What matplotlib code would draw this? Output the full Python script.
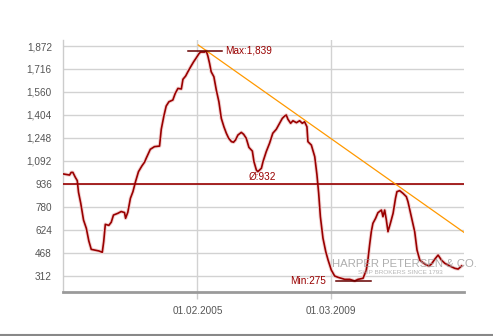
import pandas as pd
import matplotlib
matplotlib.use('Agg')
import matplotlib.pyplot as plt
import matplotlib.dates as mdates
from matplotlib.ticker import FuncFormatter

plt.rcParams['font.family'] = ['Liberation Sans', 'DejaVu Sans']

# HARPEX index
dates = ['2001-01-01', '2001-03-07', '2001-03-25', '2001-04-13', '2001-05-10', '2001-06-01',
         '2001-06-15', '2001-07-10', '2001-08-10', '2001-09-10', '2001-10-08', '2001-11-04',
         '2001-12-19', '2002-01-28', '2002-03-07', '2002-03-23', '2002-04-10', '2002-05-19',
         '2002-06-15', '2002-07-10', '2002-08-28', '2002-10-04', '2002-11-10', '2002-11-22',
         '2002-12-17', '2003-01-15', '2003-02-12', '2003-03-13', '2003-04-15', '2003-05-22',
         '2003-06-22', '2003-07-10', '2003-08-25', '2003-10-10', '2003-12-06', '2003-12-25',
         '2004-01-23', '2004-02-18', '2004-03-19', '2004-05-02', '2004-05-29', '2004-06-28',
         '2004-08-05', '2004-08-23', '2004-09-22', '2004-10-17', '2004-11-17', '2004-12-20',
         '2005-01-20', '2005-02-15', '2005-03-07', '2005-04-21', '2005-05-10', '2005-05-28',
         '2005-06-16', '2005-07-04', '2005-08-03', '2005-08-30', '2005-09-28', '2005-10-25',
         '2005-11-23', '2005-12-20', '2006-01-15', '2006-02-15', '2006-03-10', '2006-04-01',
         '2006-04-28', '2006-06-05', '2006-07-01', '2006-07-30', '2006-08-29', '2006-10-06',
         '2006-10-24', '2006-11-20', '2006-12-06', '2007-01-15', '2007-02-02', '2007-03-10',
         '2007-04-16', '2007-05-22', '2007-06-30', '2007-08-06', '2007-09-05', '2007-10-01',
         '2007-10-20', '2007-11-07', '2007-12-07', '2008-01-02', '2008-02-10', '2008-03-16',
         '2008-04-15', '2008-05-11', '2008-06-06', '2008-06-17', '2008-07-25', '2008-09-01',
         '2008-09-25', '2008-10-15', '2008-11-03', '2008-12-02', '2009-01-02', '2009-01-28',
         '2009-03-05', '2009-04-11', '2009-05-18', '2009-06-25', '2009-08-01', '2009-09-26',
         '2009-11-21', '2009-12-28', '2010-02-22', '2010-03-30', '2010-04-17', '2010-05-06',
         '2010-05-25', '2010-06-12', '2010-07-12', '2010-08-07', '2010-09-15', '2010-10-02',
         '2010-10-21', '2010-11-09', '2010-11-27', '2010-12-24', '2011-01-23', '2011-02-19',
         '2011-03-07', '2011-04-06', '2011-05-13', '2011-06-20', '2011-07-08', '2011-08-15',
         '2011-09-21', '2011-10-17', '2011-11-17', '2011-12-23', '2012-01-31', '2012-02-28',
         '2012-03-26', '2012-05-01', '2012-06-08', '2012-07-15', '2012-08-22', '2012-10-16',
         '2012-12-11', '2013-01-18', '2013-02-25']
values = [1002, 995, 1013, 1013, 980, 957,
          878, 803, 689, 633, 547, 490,
          484, 479, 470, 542, 660, 653,
          674, 723, 735, 747, 740, 701,
          742, 837, 882, 950, 1018, 1056,
          1083, 1109, 1170, 1188, 1192, 1306,
          1396, 1464, 1493, 1505, 1550, 1584,
          1580, 1646, 1668, 1697, 1731, 1765,
          1793, 1818, 1831, 1831, 1839, 1804,
          1754, 1697, 1663, 1573, 1493, 1380,
          1323, 1279, 1245, 1222, 1218, 1233,
          1267, 1285, 1272, 1245, 1183, 1158,
          1086, 1029, 1018, 1041, 1086, 1154,
          1211, 1279, 1306, 1347, 1380, 1396,
          1403, 1374, 1347, 1364, 1351, 1364,
          1347, 1357, 1323, 1222, 1199, 1120,
          1000, 871, 712, 565, 474, 417,
          349, 309, 300, 293, 286, 286,
          275, 286, 293, 349, 417, 519,
          610, 667, 701, 739, 757, 712,
          757, 689, 610, 667, 735, 837,
          882, 889, 871, 848, 814, 712,
          610, 485, 417, 399, 383, 377,
          390, 422, 451, 417, 395, 377,
          361, 356, 377]

avg_value = 932
max_value, min_value = 1839, 275
trend_dates = ['2005-02-10', '2013-04-19']
trend_values = [1879, 594]
yticks = [312, 468, 624, 780, 936, 1092, 1248, 1404, 1560, 1716, 1872]
xticks = ['2005-02-01', '2009-03-01']

dark_red = '#990000'
d = pd.to_datetime(dates)

fig = plt.figure(figsize=(4.93, 3.36), dpi=100)
ax = fig.add_axes([63/493, 1-292/336, (464-63)/493, (292-40)/336])

for v in yticks:
    ax.axhline(v, color='#d2d2d2', lw=1, zorder=1)
for t in pd.to_datetime(xticks):
    ax.axvline(t, color='#d2d2d2', lw=1, zorder=1)

ax.plot(d, values, color='#f2d2d2', lw=2.6, zorder=2)
ax.plot(d, values, color=dark_red, lw=1.2, zorder=3)
ax.axhline(avg_value, color=dark_red, lw=1.2, zorder=3)
ax.plot(pd.to_datetime(trend_dates), trend_values, color='#ff9900', lw=0.9, zorder=4)

# max / min markers
ax.plot(pd.to_datetime(['2004-10-14', '2005-10-28']), [max_value, max_value],
        color='#660000', lw=1.1, zorder=5)
ax.text(pd.Timestamp('2005-12-03'), max_value, 'Max:1,839', color=dark_red,
        fontsize=7.2, va='center', ha='left')
ax.plot(pd.to_datetime(['2009-04-30', '2010-05-25']), [min_value, min_value],
        color='#660000', lw=1.1, zorder=5)
ax.text(pd.Timestamp('2009-01-10'), min_value, 'Min:275', color=dark_red,
        fontsize=7.2, va='center', ha='right')
ax.text(pd.Timestamp('2007-01-30'), avg_value + 18, 'Ø:932', color=dark_red,
        fontsize=7.2, va='bottom', ha='center')

# watermark
ax.text(pd.Timestamp('2009-03-10'), 390, 'HARPER PETERSEN & CO.', color='#9a9a9a',
        fontsize=8.2, va='center', ha='left', alpha=0.8, zorder=6, clip_on=False)
ax.text(pd.Timestamp('2010-01-01'), 330, 'SHIP BROKERS SINCE 1793', color='#a5a5a5',
        fontsize=4.6, va='center', ha='left', alpha=0.8, zorder=6, clip_on=False)

ax.set_xlim(pd.Timestamp('2000-12-24'), pd.Timestamp('2013-03-24'))
ax.set_ylim(200, 1913)
ax.set_yticks(yticks)
ax.yaxis.set_major_formatter(FuncFormatter(lambda v, p: f'{int(v):,}'))
ax.set_xticks(pd.to_datetime(xticks))
ax.xaxis.set_major_formatter(mdates.DateFormatter('%d.%m.%Y'))
ax.tick_params(axis='y', length=0, pad=8, labelsize=7.2, labelcolor='#555555')
ax.tick_params(axis='x', length=5, width=1, color='#cccccc', pad=5,
               labelsize=7.2, labelcolor='#555555')

for s in ['top', 'right']:
    ax.spines[s].set_visible(False)
ax.spines['left'].set_color('#cccccc')
ax.spines['left'].set_linewidth(1)
ax.spines['bottom'].set_color('#9a9a9a')
ax.spines['bottom'].set_linewidth(2)
ax.spines['bottom'].set_zorder(7)

fig.add_artist(plt.Line2D([0, 1], [1.5/336, 1.5/336], color='#888888', lw=1.5))

fig.savefig('out.png', dpi=100)
